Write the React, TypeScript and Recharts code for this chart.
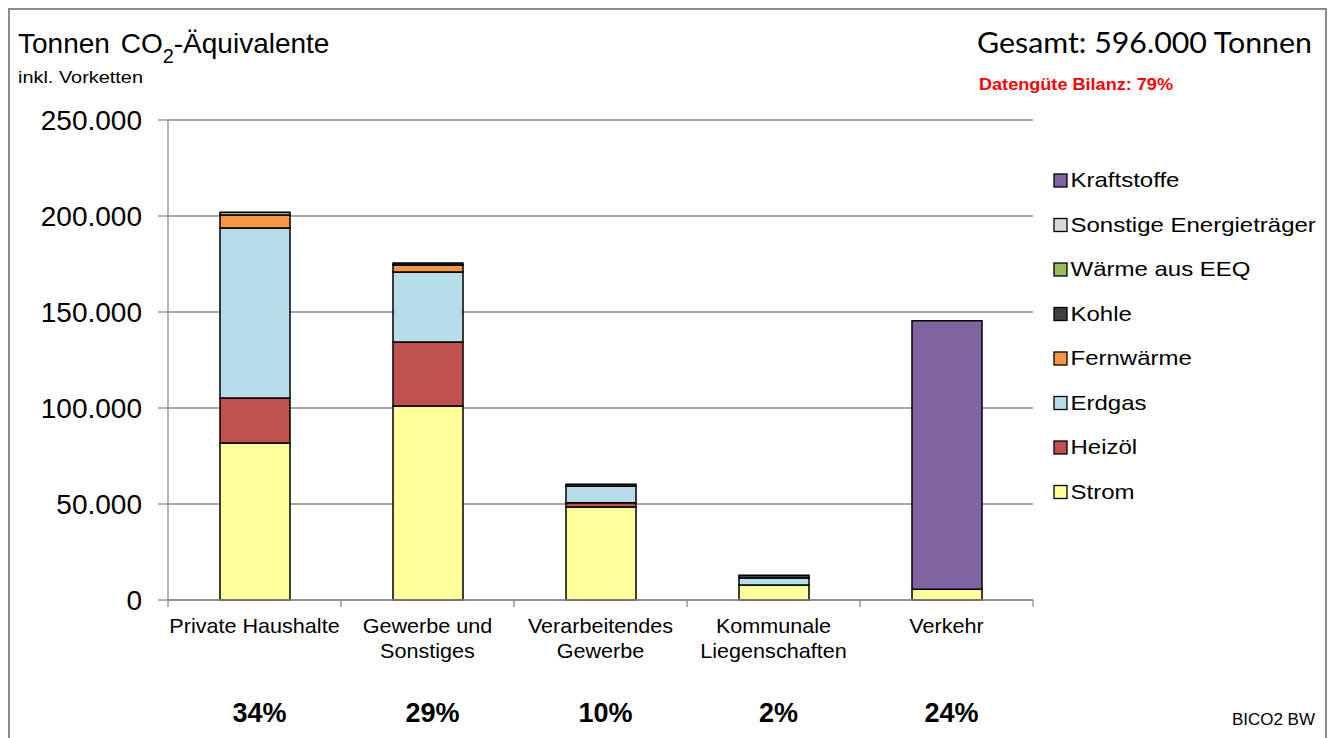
import React from "react";
import { BarChart, Bar, XAxis, YAxis, CartesianGrid, Legend } from "recharts";

const categories = [
  "Private Haushalte",
  "Gewerbe und\nSonstiges",
  "Verarbeitendes\nGewerbe",
  "Kommunale\nLiegenschaften",
  "Verkehr",
];
const shares = ["34%", "29%", "10%", "2%", "24%"];

const strom = [81800, 101000, 48400, 7800, 5600];
const heizoel = [23400, 33400, 2300, 0, 0];
const erdgas = [88500, 36400, 8600, 3650, 0];
const fernwaerme = [6800, 3700, 0, 0, 0];
const kohle = [0, 1000, 1000, 1400, 0];
const waermeEEQ = [1400, 0, 0, 0, 0];
const sonstige = [0, 0, 0, 0, 0];
const kraftstoffe = [0, 0, 0, 0, 139900];

const yTicks = [0, 50000, 100000, 150000, 200000, 250000];

const seriesNames = [
  "Strom",
  "Heizöl",
  "Erdgas",
  "Fernwärme",
  "Kohle",
  "Wärme aus EEQ",
  "Sonstige Energieträger",
  "Kraftstoffe",
];
const seriesValues = [strom, heizoel, erdgas, fernwaerme, kohle, waermeEEQ, sonstige, kraftstoffe];
const seriesColors = [
  "#FFFF99",
  "#C0504D",
  "#B7DEE8",
  "#F79646",
  "#404040",
  "#9BBB59",
  "#D9D9D9",
  "#8064A2",
];

const data = categories.map((name, i) => {
  const row: Record<string, string | number> = { name };
  seriesNames.forEach((s, k) => {
    row[s] = seriesValues[k][i];
  });
  return row;
});

const FONT = '"Liberation Sans", Arial, sans-serif';
const GREY = "#8c8c8c";

const fmt = (v: number) => String(v).replace(/\B(?=(\d{3})+(?!\d))/g, ".");

function CategoryTick(props: any) {
  const { x, y, payload, index, width, visibleTicksCount } = props;
  const half =
    typeof payload?.offset === "number" && payload.offset > 0
      ? payload.offset
      : width / (2 * (visibleTicksCount || categories.length));
  const lines = String(payload.value).split("\n");
  const isLast = index === (visibleTicksCount || categories.length) - 1;
  return (
    <g>
      <line x1={x - half} x2={x - half} y1={y} y2={y + 7} stroke={GREY} strokeWidth={1.3} />
      {isLast && <line x1={x + half} x2={x + half} y1={y} y2={y + 7} stroke={GREY} strokeWidth={1.3} />}
      {lines.map((l, k) => (
        <text
          key={k}
          transform={`translate(${x},${y + 33 + k * 25}) scale(1.08,1)`}
          textAnchor="middle"
          fontSize={20}
          fontFamily={FONT}
          fill="#000"
        >
          {l}
        </text>
      ))}
      <text
        x={x + 5}
        y={y + 122}
        textAnchor="middle"
        fontSize={27}
        fontWeight="bold"
        fontFamily={FONT}
        fill="#000"
      >
        {shares[index]}
      </text>
    </g>
  );
}

function LegendContent(props: any) {
  const items = [...(props.payload || [])].sort(
    (a: any, b: any) => seriesNames.indexOf(b.value) - seriesNames.indexOf(a.value)
  );
  return (
    <svg width={290} height={360} style={{ display: "block", overflow: "visible" }}>
      {items.map((it: any, i: number) => (
        <g key={i}>
          <rect x={14} y={14 + 44.5 * i} width={13} height={13} fill={it.color} stroke="#000" strokeWidth={1.3} />
          <text
            transform={`translate(30.5,${27.3 + 44.5 * i}) scale(1.2,1)`}
            fontSize={20}
            fontFamily={FONT}
            fill="#000"
          >
            {it.value}
          </text>
        </g>
      ))}
    </svg>
  );
}

export default function App() {
  return (
    <div style={{ position: "absolute", left: 0, top: 0, width: 1331, height: 738, overflow: "hidden", background: "#fff" }}>
      <div
        style={{
          position: "absolute",
          left: 8,
          top: 8,
          width: 1319,
          height: 760,
          boxSizing: "border-box",
          border: `2px solid ${GREY}`,
        }}
      />
      <div style={{ position: "absolute", left: 0, top: 0 }}>
        <BarChart
          width={1331}
          height={738}
          data={data}
          margin={{ top: 120, right: 298, left: 8, bottom: 8 }}
          barSize={70}
        >
          <CartesianGrid vertical={false} stroke={GREY} strokeWidth={1.3} />
          <XAxis
            dataKey="name"
            height={130}
            interval={0}
            tickLine={false}
            tickSize={0}
            tickMargin={0}
            axisLine={{ stroke: GREY, strokeWidth: 1.3 }}
            tick={<CategoryTick />}
          />
          <YAxis
            width={160}
            domain={[0, 250000]}
            ticks={yTicks}
            interval={0}
            tickFormatter={fmt}
            tickSize={10}
            tickMargin={16}
            axisLine={{ stroke: GREY, strokeWidth: 1.3 }}
            tickLine={{ stroke: GREY, strokeWidth: 1.3 }}
            tick={{ fill: "#000", fontSize: 28, fontFamily: FONT }}
          />
          <Legend
            layout="vertical"
            align="center"
            verticalAlign="middle"
            itemSorter={null as any}
            wrapperStyle={{ left: 1040, top: 160, width: 290, height: 360 }}
            content={<LegendContent />}
          />
          {seriesNames.map((s, k) => (
            <Bar
              key={s}
              dataKey={s}
              stackId="a"
              fill={seriesColors[k]}
              stroke="#000"
              strokeWidth={1.5}
              isAnimationActive={false}
            />
          ))}
        </BarChart>
      </div>
      <svg
        width={1331}
        height={738}
        style={{ position: "absolute", left: 0, top: 0, pointerEvents: "none" }}
      >
        <text x={18} y={53} fontSize={28} fontFamily={FONT} fill="#000">
          Tonnen
          <tspan dx={3}> CO</tspan>
          <tspan fontSize={20} dy={10}>2</tspan>
          <tspan dy={-10}>-Äquivalente</tspan>
        </text>
        <text x={18} y={83} fontSize={17} fontFamily={FONT} fill="#000" textLength={125} lengthAdjust="spacingAndGlyphs">
          inkl. Vorketten
        </text>
        <text
          x={1312}
          y={53}
          textAnchor="end"
          fontSize={28}
          fontFamily='Lato, "Open Sans", sans-serif'
          fill="#000"
          textLength={335}
          lengthAdjust="spacingAndGlyphs"
        >
          Gesamt: 596.000 Tonnen
        </text>
        <text
          x={979}
          y={90}
          fontSize={17}
          fontWeight="bold"
          fontFamily={FONT}
          fill="#FF0000"
          textLength={194}
          lengthAdjust="spacingAndGlyphs"
        >
          Datengüte Bilanz: 79%
        </text>
        <text x={1315} y={725} textAnchor="end" fontSize={17} fontFamily={FONT} fill="#000">
          BICO2 BW
        </text>
      </svg>
    </div>
  );
}
